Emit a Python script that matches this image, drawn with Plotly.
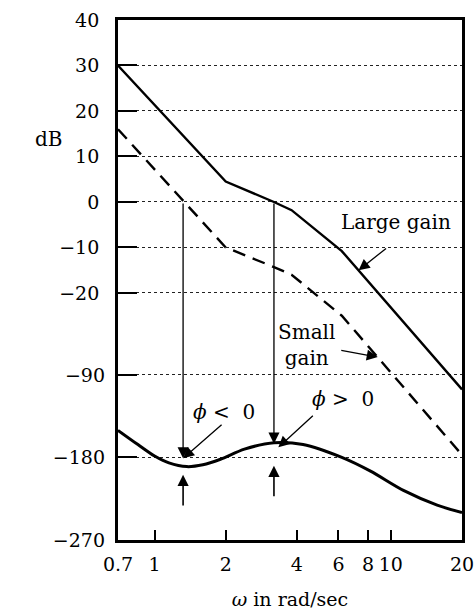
import math
import plotly.graph_objects as go

# ---------------- data ----------------
mag_w = [0.7, 2.0, 3.2, 3.8, 6.2, 20.0]
large_gain_db = [30.0, 4.5, 0.0, -1.8, -10.8, -41.2]
small_gain_db = [16.0, -10.0, -14.3, -16.0, -25.0, -55.6]

phase_w = [0.7, 0.85, 1.0, 1.15, 1.37, 1.6, 1.9, 2.4, 3.2, 4.25, 6.2, 8.2, 11.3, 15.7, 20.0]
phase_deg = [-150.5, -166, -178.5, -186, -190, -188, -182, -171, -164, -166, -180, -195, -216, -232, -240]

x_tickvals = [0.7, 1, 2, 4, 6, 8, 10, 20]
x_ticktext = ["0.7", "1", "2", "4", "6", "8", "10", "20"]
db_tickvals = [40, 30, 20, 10, 0, -10, -20]
deg_tickvals = [-90, -180, -270]

w_pm_small = 1.32   # 0 dB crossing, small gain
w_pm_large = 3.2    # 0 dB crossing, large gain

# ---------------- axis geometry ----------------
DB_TOP, DB_BOT = 40.0, -74.3
PH_BOT = -270.0
DEG_PER_DB = 90.0 / 18.15
PH_TOP = PH_BOT + (DB_TOP - DB_BOT) * DEG_PER_DB


def db_to_deg(d):
    return PH_BOT + (d - DB_BOT) * DEG_PER_DB


FONT = "DejaVu Serif"
X_RANGE = [math.log10(0.7), math.log10(20)]
ARROW = dict(showarrow=True, arrowhead=2, arrowsize=1.7, arrowwidth=1.3, arrowcolor="black", text="")

fig = go.Figure()
fig.add_trace(go.Scatter(x=mag_w, y=large_gain_db, mode="lines",
                         line=dict(color="black", width=2.4), yaxis="y", showlegend=False))
fig.add_trace(go.Scatter(x=mag_w, y=small_gain_db, mode="lines",
                         line=dict(color="black", width=2.4, dash="13px,8px"), yaxis="y", showlegend=False))
fig.add_trace(go.Scatter(x=phase_w, y=phase_deg, mode="lines",
                         line=dict(color="black", width=3, shape="spline", smoothing=0.8),
                         yaxis="y2", showlegend=False))

annots = []
# vertical arrows from 0 dB crossings down to phase curve
for w, tip in [(w_pm_small, -181), (w_pm_large, -165)]:
    annots.append(dict(x=math.log10(w), y=tip, xref="x", yref="y2",
                       ax=math.log10(w), ay=db_to_deg(0), axref="x", ayref="y2", **ARROW))
# small up arrows
for w, tip, tail in [(w_pm_small, -199, -234), (w_pm_large, -189, -224)]:
    a = dict(ARROW)
    a["arrowwidth"] = 1.6
    a["arrowsize"] = 1.4
    annots.append(dict(x=math.log10(w), y=tip, xref="x", yref="y2",
                       ax=math.log10(w), ay=tail, axref="x", ayref="y2", **a))
# phi labels
annots.append(dict(x=math.log10(1.32), y=-181, xref="x", yref="y2", ax=40, ay=-35, **ARROW))
annots.append(dict(x=math.log10(1.97), y=-131, xref="x", yref="y2", showarrow=False,
                   text="<i>ϕ</i> <  0", font=dict(family=FONT, size=20, color="black")))
annots.append(dict(x=math.log10(3.34), y=-169, xref="x", yref="y2", ax=36, ay=-33, **ARROW))
annots.append(dict(x=math.log10(6.3), y=-116, xref="x", yref="y2", showarrow=False,
                   text="<i>ϕ</i> >  0", font=dict(family=FONT, size=20, color="black")))
# gain labels
annots.append(dict(x=math.log10(7.3), y=-15, xref="x", yref="y", ax=29, ay=-23, **ARROW))
annots.append(dict(x=math.log10(10.5), y=-4.4, xref="x", yref="y", showarrow=False,
                   text="Large gain", font=dict(family=FONT, size=20, color="black")))
annots.append(dict(x=math.log10(8.8), y=-34.1, xref="x", yref="y", ax=-38, ay=-7, **ARROW))
annots.append(dict(x=math.log10(4.4), y=-31.4, xref="x", yref="y", showarrow=False,
                   text="Small<br>gain", align="center",
                   font=dict(family=FONT, size=20, color="black")))
# dB label
annots.append(dict(x=-0.247, y=13.8, xref="paper", yref="y", showarrow=False,
                   text="dB", font=dict(family=FONT, size=20, color="black")))

fig.update_layout(
    width=474, height=616,
    margin=dict(l=118, r=12, t=20, b=76),
    paper_bgcolor="white", plot_bgcolor="white",
    font=dict(family=FONT, size=19, color="black"),
    annotations=annots,
    xaxis=dict(type="log", range=X_RANGE, tickmode="array", tickvals=x_tickvals,
               ticktext=x_ticktext, ticks="inside", ticklen=10, tickwidth=1.6,
               tickcolor="black", showgrid=False, zeroline=False,
               showline=True, linecolor="black", linewidth=2.6, mirror=True,
               ticklabelstandoff=5, automargin=False, ticklabeloverflow="allow",
               title=dict(text="<i>ω</i> in rad/sec", standoff=20,
                          font=dict(family=FONT, size=19, color="black"))),
    xaxis2=dict(type="log", range=X_RANGE, overlaying="x", anchor="y", side="bottom",
                tickmode="array", tickvals=[1, 10], ticks="inside", ticklen=18,
                tickwidth=1.6, tickcolor="black", showticklabels=False,
                showgrid=False, zeroline=False, showline=False, automargin=False),
    yaxis=dict(range=[DB_BOT, DB_TOP], tickmode="array", tickvals=db_tickvals,
               ticks="inside", ticklen=19, tickwidth=2, tickcolor="black",
               showgrid=True, gridcolor="#222", gridwidth=1, griddash="dot",
               zeroline=False, showline=True, linecolor="black", linewidth=2.8,
               mirror=True, ticklabelstandoff=12, automargin=False,
               ticklabeloverflow="allow"),
    yaxis2=dict(range=[PH_BOT, PH_TOP], overlaying="y", side="left", anchor="x",
                tickmode="array", tickvals=deg_tickvals, ticksuffix="°",
                ticks="inside", ticklen=19, tickwidth=2, tickcolor="black",
                showgrid=True, gridcolor="#222", gridwidth=1, griddash="dot",
                zeroline=False, showline=False, ticklabelstandoff=12, automargin=False,
                ticklabeloverflow="allow"),
)

fig.write_html("out.html", config={"displayModeBar": False},
               post_script="document.body.style.margin='0';document.body.style.overflow='hidden';")
